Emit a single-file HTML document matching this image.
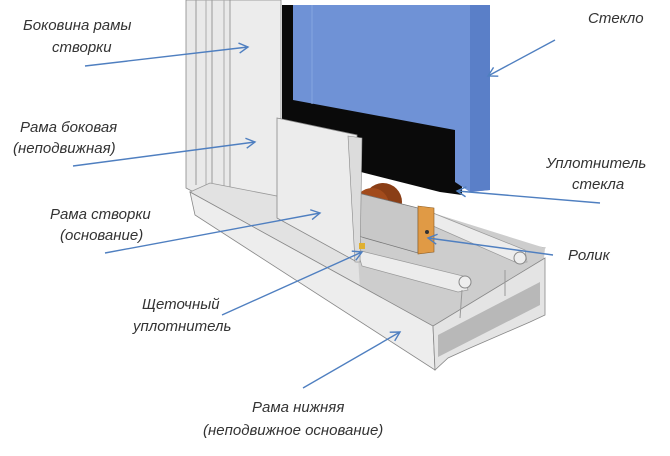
<!DOCTYPE html>
<html><head><meta charset="utf-8"><style>
html,body{margin:0;padding:0;background:#fff}
svg{display:block}
text{font-family:"Liberation Sans",sans-serif;font-style:italic;font-size:15px;fill:#333}
</style></head><body>
<svg width="670" height="456" viewBox="0 0 670 456" xmlns="http://www.w3.org/2000/svg">
<defs>
<marker id="a" markerWidth="12" markerHeight="12" refX="10" refY="6" orient="auto" markerUnits="userSpaceOnUse">
<path d="M1,1 L10,6 L1,11" fill="none" stroke="#4f7fc0" stroke-width="1.4"/>
</marker>
</defs>
<!-- left fixed frame strips -->
<polygon points="186,0 232,0 232,212 186,188" fill="#e9e9e9" stroke="#888" stroke-width="0.8"/>
<line x1="196" y1="0" x2="196" y2="185" stroke="#999"/>
<line x1="206" y1="0" x2="206" y2="188" stroke="#aaa"/>
<line x1="212" y1="0" x2="212" y2="190" stroke="#999"/>
<line x1="224" y1="0" x2="224" y2="193" stroke="#aaa"/>
<!-- sash side -->
<polygon points="230,0 281,0 281,230 230,205" fill="#ececec" stroke="#888" stroke-width="0.8"/>
<!-- black seal -->
<polygon points="282,5 462,5 462,195 440,192 353,170 282,150" fill="#0a0a0a"/>
<!-- glass -->
<polygon points="293,5 490,5 490,190 470,192 455,182 455,130 293,100" fill="#6f92d6"/>
<polygon points="470,5 490,5 490,190 470,192" fill="#5a7fc8"/>
<line x1="312" y1="5" x2="312" y2="104" stroke="#86a5e0"/>
<!-- base top face -->
<polygon points="190,192 210,183 545,248 433,326" fill="#e2e2e2" stroke="#999" stroke-width="0.8"/>
<!-- inner channel -->
<polygon points="357,240 433,213 545,248 540,300 433,330 360,290" fill="#cdcdcd"/>
<!-- rail 2 -->
<polygon points="433,213 525,250 527,262 515,262 433,226" fill="#ececec" stroke="#999" stroke-width="0.7"/>
<circle cx="520" cy="258" r="6" fill="#eee" stroke="#888"/>
<!-- rail 1 -->
<polygon points="357,250 463,276 468,290 458,292 362,266" fill="#ececec" stroke="#999" stroke-width="0.7"/>
<circle cx="465" cy="282" r="6" fill="#eee" stroke="#888"/>
<!-- base front face -->
<polygon points="190,192 433,326 435,370 195,215" fill="#ededed" stroke="#888" stroke-width="0.8"/>
<!-- end profile -->
<polygon points="433,326 545,258 545,315 530,322 470,348 448,358 435,370" fill="#e4e4e4" stroke="#888" stroke-width="0.8"/>
<polygon points="438,335 540,282 540,305 438,357" fill="#b8b8b8"/>
<line x1="460" y1="318" x2="462" y2="290" stroke="#999"/>
<line x1="505" y1="296" x2="505" y2="270" stroke="#999"/>
<!-- wheel block -->
<circle cx="383" cy="202" r="19" fill="#8a3e16"/>
<circle cx="372" cy="205" r="17" fill="#a24b1c"/>
<polygon points="358,193 418,208 418,253 358,236" fill="#c8c8c8" stroke="#777" stroke-width="0.8"/>
<polygon points="418,206 434,208 434,252 418,254" fill="#e09a45" stroke="#8a5a20" stroke-width="0.6"/>
<circle cx="427" cy="232" r="2" fill="#333"/>
<!-- sash front panel -->
<polygon points="277,118 357,135 357,262 277,218" fill="#ececec" stroke="#888" stroke-width="0.8"/>
<polygon points="348,136 362,138 360,262 355,262" fill="#dcdcdc" stroke="#888" stroke-width="0.6"/>
<rect x="359" y="243" width="6" height="6" fill="#e0b030"/>
<!-- arrows -->
<g stroke="#4f7fc0" stroke-width="1.4" fill="none" marker-end="url(#a)">
<line x1="85" y1="66" x2="248" y2="47"/>
<line x1="73" y1="166" x2="255" y2="142"/>
<line x1="105" y1="253" x2="320" y2="213"/>
<line x1="222" y1="315" x2="362" y2="252"/>
<line x1="303" y1="388" x2="400" y2="332"/>
<line x1="555" y1="40" x2="488" y2="76"/>
<line x1="600" y1="203" x2="457" y2="191"/>
<line x1="553" y1="255" x2="428" y2="238"/>
</g>
<!-- labels -->
<text x="23" y="30">Боковина рамы</text>
<text x="52" y="52">створки</text>
<text x="20" y="132">Рама боковая</text>
<text x="13" y="153">(неподвижная)</text>
<text x="50" y="219">Рама створки</text>
<text x="60" y="240">(основание)</text>
<text x="142" y="309">Щеточный</text>
<text x="133" y="331">уплотнитель</text>
<text x="252" y="412">Рама нижняя</text>
<text x="203" y="435">(неподвижное основание)</text>
<text x="588" y="23">Стекло</text>
<text x="546" y="168">Уплотнитель</text>
<text x="572" y="189">стекла</text>
<text x="568" y="260">Ролик</text>
</svg>
</body></html>
